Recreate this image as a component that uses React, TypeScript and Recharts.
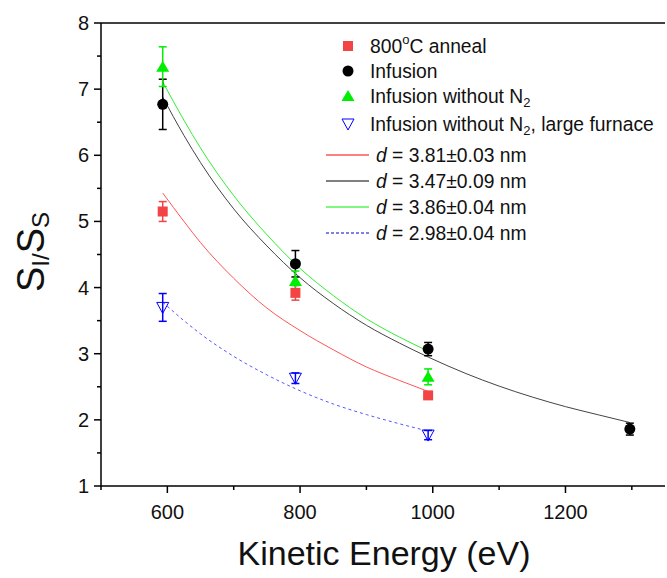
import { ComposedChart, Line, Scatter, XAxis, YAxis, ErrorBar, ReferenceLine } from 'recharts';

// measured points
const annealX = [593, 793, 993];
const annealY = [5.15, 3.92, 2.37];
const annealErr = [0.15, 0.11, 0.03];

const infusionX = [593, 793, 993, 1297];
const infusionY = [6.77, 4.36, 3.07, 1.86];
const infusionErr = [0.38, 0.2, 0.1, 0.09];

const noN2X = [593, 793, 993];
const noN2Y = [7.34, 4.1, 2.65];
const noN2Err = [0.3, 0.15, 0.12];

const furnaceX = [593, 793, 993];
const furnaceY = [3.7, 2.63, 1.77];
const furnaceErr = [0.21, 0.08, 0.07];

// fitted curves
const fitX = [593, 625, 650, 700, 750, 800, 850, 900, 950, 993];
const fitXLong = [593, 625, 650, 700, 750, 800, 850, 900, 950, 993, 1050, 1100, 1150, 1200, 1250, 1297];
const annealFit = [5.43, 5.0, 4.68, 4.14, 3.69, 3.35, 3.06, 2.8, 2.595, 2.43];
const infusionFit = [6.88, 6.3, 5.89, 5.19, 4.63, 4.15, 3.76, 3.43, 3.16, 2.95, 2.7, 2.51, 2.345, 2.2, 2.075, 1.96];
const noN2Fit = [7.11, 6.53, 6.11, 5.39, 4.8, 4.29, 3.88, 3.53, 3.25, 3.04];
const furnaceFit = [3.78, 3.5, 3.3, 2.96, 2.68, 2.44, 2.24, 2.08, 1.94, 1.83];

const xTicks = [500, 600, 700, 800, 900, 1000, 1100, 1200, 1300];
const yTicks = [1, 1.5, 2, 2.5, 3, 3.5, 4, 4.5, 5, 5.5, 6, 6.5, 7, 7.5, 8];

const fitLabels = ['3.81±0.03', '3.47±0.09', '3.86±0.04', '2.98±0.04'];

const pts = (xs: number[], ys: number[], es: number[]) => xs.map((x, i) => ({ x, y: ys[i], err: es[i] }));
const curve = (xs: number[], ys: number[]) => xs.map((x, i) => ({ x, y: ys[i] }));

const RED = '#f24444';
const GREEN = '#00ee00';
const BLUE = '#0000ff';
const FONT = '"Liberation Sans", Arial, sans-serif';

const XTick = ({ x, y, payload }: any) => {
  const major = payload.value % 200 === 0;
  return (
    <g>
      <line x1={x} y1={y} x2={x} y2={y + (major ? 7 : 4)} stroke="#000" strokeWidth={1.5} />
      {major && (
        <text x={x} y={y + 26} textAnchor="middle" dominantBaseline="central" fontSize={20} fontFamily={FONT} fill="#111">
          {payload.value}
        </text>
      )}
    </g>
  );
};

const YTick = ({ x, y, payload }: any) => {
  const major = Number.isInteger(payload.value);
  return (
    <g>
      <line x1={x} y1={y} x2={x - (major ? 7 : 4)} y2={y} stroke="#000" strokeWidth={1.5} />
      {major && (
        <text x={x - 12} y={y} textAnchor="end" dominantBaseline="central" fontSize={20} fontFamily={FONT} fill="#111">
          {payload.value}
        </text>
      )}
    </g>
  );
};

const square = (p: any) => <rect x={p.cx - 5} y={p.cy - 5} width={10} height={10} fill={RED} />;
const circle = (p: any) => <circle cx={p.cx} cy={p.cy} r={5.5} fill="#000" />;
const triUp = (p: any) => (
  <polygon points={`${p.cx},${p.cy - 6} ${p.cx - 6.5},${p.cy + 5} ${p.cx + 6.5},${p.cy + 5}`} fill={GREEN} />
);
const triDown = (p: any) => (
  <polygon points={`${p.cx - 6},${p.cy - 5} ${p.cx + 6},${p.cy - 5} ${p.cx},${p.cy + 6}`} fill="none" stroke={BLUE} strokeWidth={1} />
);

const Overlay = () => {
  const rows = [46, 71, 96, 124];
  const lineRows = [155, 181, 207, 233];
  const lineColors = ['#ff0000', '#000000', '#00ee00', '#0000cc'];
  return (
    <svg width={667} height={578} style={{ position: 'absolute', left: 0, top: 0, pointerEvents: 'none' }} fontFamily={FONT}>
      <g fontSize={19.3} fill="#111">
        {square({ cx: 348, cy: rows[0] })}
        <text x={370} y={rows[0]} dominantBaseline="central">
          800<tspan fontSize={13} dy={-7}>o</tspan><tspan dy={7}>C anneal</tspan>
        </text>
        {circle({ cx: 348, cy: rows[1] })}
        <text x={370} y={rows[1]} dominantBaseline="central">Infusion</text>
        {triUp({ cx: 348, cy: rows[2] })}
        <text x={370} y={rows[2]} dominantBaseline="central">
          Infusion without N<tspan fontSize={13} dy={6}>2</tspan>
        </text>
        {triDown({ cx: 348, cy: rows[3] })}
        <text x={370} y={rows[3]} dominantBaseline="central">
          Infusion without N<tspan fontSize={13} dy={6}>2</tspan><tspan dy={-6}>, large furnace</tspan>
        </text>
        {lineRows.map((ly, i) => (
          <g key={i}>
            <line x1={326} x2={369} y1={ly} y2={ly} stroke={lineColors[i]} strokeWidth={1} strokeDasharray={i === 3 ? '3 2' : undefined} />
            <text x={376} y={ly} dominantBaseline="central">
              <tspan fontStyle="italic">d</tspan> = {fitLabels[i]} nm
            </text>
          </g>
        ))}
      </g>
      <text x={384} y={553} textAnchor="middle" dominantBaseline="central" fontSize={34} fill="#111">
        Kinetic Energy (eV)
      </text>
      <text transform="rotate(-90 31 252)" x={31} y={252} textAnchor="middle" dominantBaseline="central" fontSize={38} fill="#111">
        S<tspan fontSize={24} dy={9}>I/</tspan><tspan dy={-9}>S</tspan><tspan fontSize={24} dy={9}>S</tspan>
      </text>
    </svg>
  );
};

export default function App() {
  return (
    <div style={{ position: 'absolute', left: 0, top: 0, width: 667, height: 578, background: '#fff' }}>
      <ComposedChart width={667} height={578} margin={{ top: 23, right: 2, left: 0, bottom: 0 }}>
        <XAxis
          type="number"
          dataKey="x"
          domain={[500, 1350]}
          ticks={xTicks}
          tick={<XTick />}
          tickLine={false}
          tickSize={0}
          tickMargin={0}
          height={92}
          axisLine={{ stroke: '#000', strokeWidth: 1.5 }}
          allowDataOverflow
        />
        <YAxis
          type="number"
          dataKey="y"
          domain={[1, 8]}
          ticks={yTicks}
          tick={<YTick />}
          tickLine={false}
          tickSize={0}
          tickMargin={0}
          width={101}
          axisLine={{ stroke: '#000', strokeWidth: 1.5 }}
          allowDataOverflow
        />
        <ReferenceLine y={8} stroke="#000" strokeWidth={1.5} />
        <Line data={curve(fitX, annealFit)} dataKey="y" type="monotone" stroke="#ff5555" strokeWidth={1} dot={false} isAnimationActive={false} />
        <Line data={curve(fitXLong, infusionFit)} dataKey="y" type="monotone" stroke="#444" strokeWidth={1} dot={false} isAnimationActive={false} />
        <Line data={curve(fitX, noN2Fit)} dataKey="y" type="monotone" stroke="#33ee33" strokeWidth={1} dot={false} isAnimationActive={false} />
        <Line data={curve(fitX, furnaceFit)} dataKey="y" type="monotone" stroke="#5555ff" strokeWidth={1} strokeDasharray="3 3" dot={false} isAnimationActive={false} />
        <Scatter data={pts(annealX, annealY, annealErr)} shape={square} isAnimationActive={false}>
          <ErrorBar dataKey="err" direction="y" width={4} stroke={RED} strokeWidth={1.5} />
        </Scatter>
        <Scatter data={pts(infusionX, infusionY, infusionErr)} shape={circle} isAnimationActive={false}>
          <ErrorBar dataKey="err" direction="y" width={4} stroke="#000" strokeWidth={1.5} />
        </Scatter>
        <Scatter data={pts(noN2X, noN2Y, noN2Err)} shape={triUp} isAnimationActive={false}>
          <ErrorBar dataKey="err" direction="y" width={4} stroke={GREEN} strokeWidth={1.5} />
        </Scatter>
        <Scatter data={pts(furnaceX, furnaceY, furnaceErr)} shape={triDown} isAnimationActive={false}>
          <ErrorBar dataKey="err" direction="y" width={4} stroke={BLUE} strokeWidth={1.5} />
        </Scatter>
      </ComposedChart>
      <Overlay />
    </div>
  );
}
